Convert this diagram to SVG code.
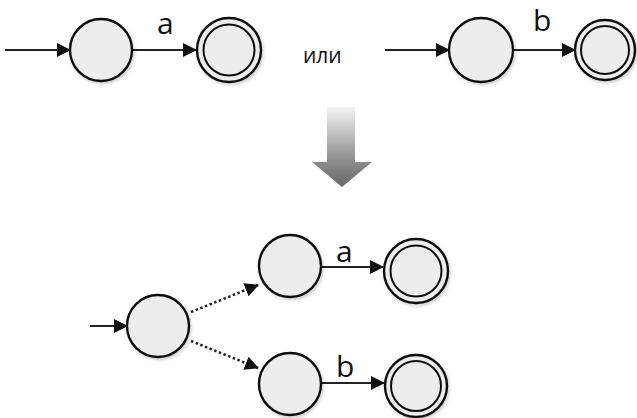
<svg xmlns="http://www.w3.org/2000/svg" width="637" height="418" viewBox="0 0 637 418">
  <style>
    .state { fill: #ededed; stroke: #111; stroke-width: 2.4; }
    .inner { fill: none; stroke: #111; stroke-width: 2; }
    .edge { stroke: #222; stroke-width: 2; fill: none; marker-end: url(#head); }
    .dotted { stroke: #222; stroke-width: 2.5; fill: none; stroke-dasharray: 2.5 2.5; marker-end: url(#head); }
    .lbl { font-family: "Open Sans", "Noto Sans", sans-serif; font-size: 30px; fill: #111; }
    .word { font-family: "Open Sans", "Noto Sans", sans-serif; font-size: 21px; fill: #111; }
  </style>
  <defs>
    <marker id="head" viewBox="0 0 14 14" refX="13" refY="7" markerWidth="14" markerHeight="14" markerUnits="userSpaceOnUse" orient="auto">
      <path d="M0,0 L14,7 L0,14 Z" fill="#111"/>
    </marker>
    <linearGradient id="shaft" x1="0" y1="0" x2="0" y2="1">
      <stop offset="0" stop-color="#f4f4f4"/>
      <stop offset="1" stop-color="#888888"/>
    </linearGradient>
    <linearGradient id="tip" x1="0" y1="0" x2="0" y2="1">
      <stop offset="0" stop-color="#8c8c8c"/>
      <stop offset="1" stop-color="#666666"/>
    </linearGradient>
    <filter id="soft" x="-20%" y="-20%" width="150%" height="150%">
      <feDropShadow dx="1.5" dy="2" stdDeviation="1.5" flood-color="#000" flood-opacity="0.18"/>
    </filter>
  </defs>

  <!-- connectors -->
  <g id="connectors">
    <line class="edge" x1="5" y1="50" x2="70" y2="50"/>
    <line class="edge" x1="133" y1="50" x2="196" y2="50"/>
    <line class="edge" x1="385" y1="50" x2="449" y2="50"/>
    <line class="edge" x1="513" y1="50" x2="575" y2="50"/>
    <line class="edge" x1="90" y1="326" x2="127" y2="326"/>
    <line class="dotted" x1="191" y1="312" x2="258" y2="285"/>
    <line class="dotted" x1="191" y1="341" x2="258" y2="368"/>
    <line class="edge" x1="321" y1="267" x2="383" y2="267"/>
    <line class="edge" x1="321" y1="383" x2="384" y2="383"/>
  </g>

  <!-- edge labels and caption -->
  <g id="labels">
    <text class="lbl" x="157" y="34">a</text>
    <text class="lbl" x="533" y="31">b</text>
    <text class="word" x="303" y="63">или</text>
    <text class="lbl" x="336" y="262">a</text>
    <text class="lbl" x="336" y="377">b</text>
  </g>

  <!-- transformation arrow -->
  <g id="transform-arrow">
    <rect x="327" y="107" width="28" height="56" fill="url(#shaft)"/>
    <path d="M312,162 L372,162 L342,187 Z" fill="url(#tip)"/>
  </g>

  <!-- upper pair: a -->
  <g id="a-start" filter="url(#soft)"><circle class="state" cx="101" cy="50" r="31"/></g>
  <g id="a-final" filter="url(#soft)">
    <circle class="state" cx="229" cy="50" r="32"/>
    <circle class="inner" cx="229" cy="50" r="25.5"/>
  </g>

  <!-- upper pair: b -->
  <g id="b-start" filter="url(#soft)"><circle class="state" cx="481" cy="50" r="32"/></g>
  <g id="b-final" filter="url(#soft)">
    <circle class="state" cx="605" cy="50" r="30"/>
    <circle class="inner" cx="605" cy="50" r="24"/>
  </g>

  <!-- combined automaton -->
  <g id="c-start" filter="url(#soft)"><circle class="state" cx="158" cy="326" r="31"/></g>
  <g id="c-upper" filter="url(#soft)"><circle class="state" cx="290" cy="266" r="31"/></g>
  <g id="c-upper-final" filter="url(#soft)">
    <circle class="state" cx="416" cy="271" r="32"/>
    <circle class="inner" cx="416" cy="271" r="25.5"/>
  </g>
  <g id="c-lower" filter="url(#soft)"><circle class="state" cx="290" cy="384" r="31"/></g>
  <g id="c-lower-final" filter="url(#soft)">
    <circle class="state" cx="416" cy="386" r="31"/>
    <circle class="inner" cx="416" cy="386" r="25"/>
  </g>
</svg>
